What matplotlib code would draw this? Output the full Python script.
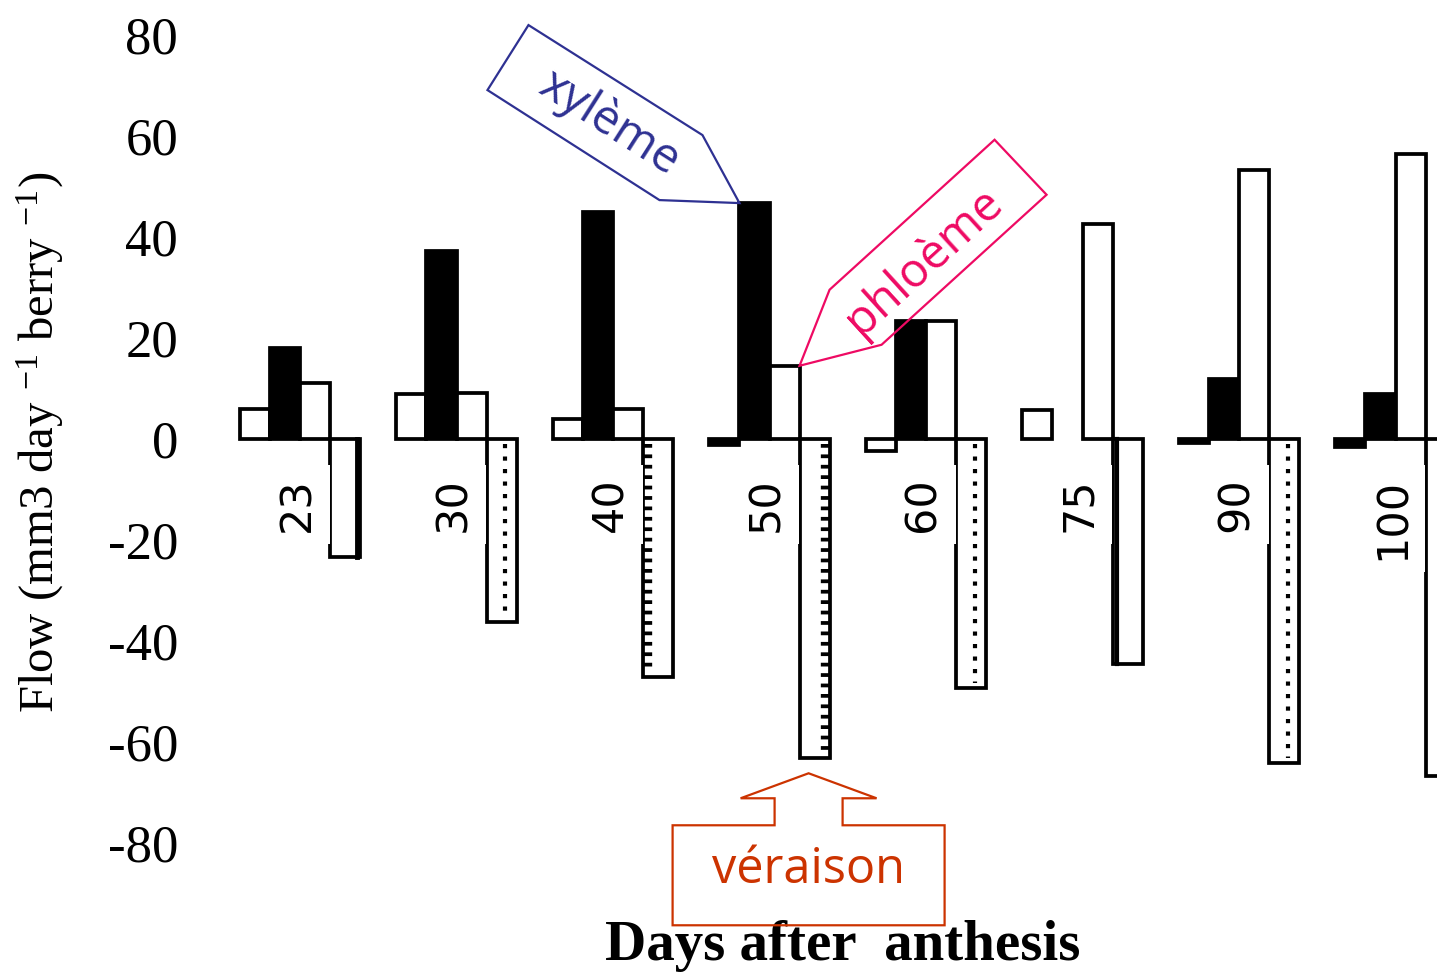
import numpy as np
import matplotlib
matplotlib.use("Agg")
import matplotlib.pyplot as plt
from matplotlib.patches import Polygon
from matplotlib.transforms import IdentityTransform

# ---------------- data ----------------
days = ['23', '30', '40', '50', '60', '75', '90', '100']
series_a = [6.0, 9.0, 4.0, -1.2, -2.4, 5.7, -0.8, -1.5]
series_a_fill = ['white', 'white', 'white', 'black', 'white', 'white', 'black', 'black']
xylem = [18.0, 37.2, 45.0, 46.7, 23.3, 0.0, 11.9, 8.9]
phloem = [11.1, 9.1, 5.9, 14.5, 23.3, 42.6, 53.3, 56.4]
outflow = [-23.4, -36.2, -47.1, -63.2, -49.3, -44.5, -64.2, -66.7]
outflow_pattern = ['thick_right', 'dots', 'comb_left', 'comb_right', 'dots', 'thick_left', 'dots', 'none']
yticks = [-80, -60, -40, -20, 0, 20, 40, 60, 80]
ytick_labels = ['-80', '-60', '-40', '-20', '0', '20', '40', '60', '80']

plt.rcParams['mathtext.fontset'] = 'custom'
plt.rcParams['mathtext.rm'] = 'Liberation Serif'
plt.rcParams['mathtext.it'] = 'Liberation Serif:italic'

W, H = 1437, 975
fig = plt.figure(figsize=(W / 100, H / 100), dpi=100)
ax = fig.add_axes([190 / W, 0, 1 - 190 / W, 1])
ax.set_xlim(-0.703, 7.265)
ax.set_ylim(-106.1, 86.9)
for s in ax.spines.values():
    s.set_visible(False)
ax.set_xticks([])
ax.set_yticks(yticks, labels=ytick_labels)
ax.tick_params(axis='y', length=0, pad=8.5, labelsize=38)
for t in ax.get_yticklabels():
    t.set_fontfamily('Liberation Serif')

x = np.arange(len(days))
w = 0.192
px = 1 / 156.5  # data-x per pixel
lw = 2.7
b1 = ax.bar(x - 1.5 * w, series_a, w, color=series_a_fill, edgecolor='black', linewidth=lw, zorder=2)
b2 = ax.bar(x - 0.5 * w, xylem, w, color='black', edgecolor='black', linewidth=lw, zorder=2)
b3 = ax.bar(x + 0.5 * w, phloem, w, color='white', edgecolor='black', linewidth=lw, zorder=2)
b4 = ax.bar(x + 1.5 * w, outflow, w, color='white', edgecolor='black', linewidth=lw, zorder=2)
for bars in (b1, b2, b3, b4):
    for p in bars:
        if p.get_height() == 0:
            p.set_visible(False)

# fill patterns of the negative bars
for p, pat in zip(b4, outflow_pattern):
    x0, bw, h = p.get_x(), p.get_width(), p.get_height()
    ys = [-1.0, h + 1.0]
    if pat == 'dots':
        xx = x0 + 0.62 * bw
        ax.plot([xx, xx], ys, color='black', lw=3.0, ls=(0, (1, 2)),
                solid_capstyle='butt', dash_capstyle='butt', zorder=2.5)
    elif pat in ('comb_left', 'comb_right'):
        xx = x0 + 5 * px if pat == 'comb_left' else x0 + bw - 5 * px
        ax.plot([xx, xx], ys, color='black', lw=6.0, ls=(0, (0.45, 0.8)),
                solid_capstyle='butt', dash_capstyle='butt', zorder=2.5)
    elif pat == 'thick_right':
        xx = x0 + bw - 3 * px
        ax.plot([xx, xx], [0, h], color='black', lw=3.5, zorder=2.5)
    elif pat == 'thick_left':
        xx = x0 + 4 * px
        ax.plot([xx, xx], [0, h], color='black', lw=3.0, zorder=2.5)

# category labels (rotated, white background)
for i, d in enumerate(days):
    ax.text(i - 0.02, -7.6, d, rotation=90, ha='center', va='top', fontsize=31,
            family='DejaVu Sans', zorder=4,
            bbox=dict(facecolor='white', edgecolor='none', boxstyle='square,pad=0.28'))

fig.text(40 / W, 1 - 442 / H, r'Flow (mm3 day $^{\mathrm{-1}}$ berry $^{\mathrm{-1}}$)',
         rotation=90, ha='center', va='center', fontsize=35, family='Liberation Serif')
fig.text(843 / W, 1 - 946 / H, 'Days after  anthesis', ha='center', va='center',
         fontsize=41, fontweight='bold', family='Liberation Serif')

# ---------------- callouts ----------------
idt = IdentityTransform()
ann_font = 'Open Sans'


def callout(anchor, offsets, color, text, text_off, rot, size):
    T = ax.transData.transform(anchor)
    verts = [(T[0] + dx, T[1] - dy) for dx, dy in offsets]
    fig.add_artist(Polygon(verts, closed=True, facecolor='none', edgecolor=color,
                           linewidth=1.6, transform=idt, zorder=6))
    fig.text(T[0] + text_off[0], T[1] - text_off[1], text, transform=idt,
             rotation=rot, rotation_mode='anchor', ha='center', va='center',
             color=color, fontsize=size, family=ann_font, zorder=7)


gi = days.index('50')
callout((b2[gi].get_x(), xylem[gi]),
        [(0, 0), (-37, -68), (-211, -178), (-252, -113), (-80, -3)],
        '#2e3192', 'xylème', (-130, -80), -32.5, 34)
callout((b3[gi].get_x() + b3[gi].get_width(), phloem[gi]),
        [(0, 0), (30, -76), (195, -226), (247, -171), (82, -21)],
        '#ee0a63', 'phloème', (124, -104), 42.3, 34)
callout((b4[gi].get_x() + b4[gi].get_width() / 2, outflow[gi]),
        [(-6, 15), (62, 40), (28, 40), (28, 67), (130, 67), (130, 167),
         (-142, 167), (-142, 67), (-40, 67), (-40, 40), (-74, 40)],
        '#cc3300', 'véraison', (-6, 112), 0, 35)

fig.savefig('out.png', dpi=100)
